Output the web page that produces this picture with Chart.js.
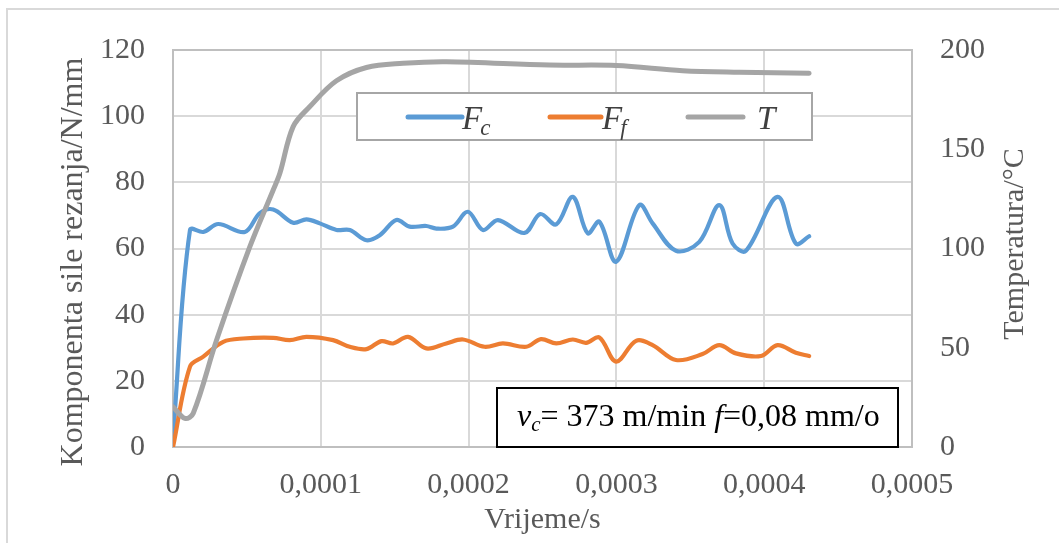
<!DOCTYPE html>
<html><head><meta charset="utf-8">
<script src="https://cdn.jsdelivr.net/npm/chart.js@4.4.0/dist/chart.umd.min.js"></script>
<style>html,body{margin:0;padding:0;background:#fff;}#wrap{width:1059px;height:543px;}</style>
</head><body><div id="wrap"><canvas id="c" width="1059" height="543"></canvas></div>
<script>
// ---- data ----
const timeFc = [0, 1.15e-5, 2.05e-5, 3.06e-5, 4.86e-5, 5.88e-5, 6.78e-5, 8.13e-5, 9.03e-5, 9.93e-5, 1.106e-4, 1.196e-4, 1.309e-4, 1.399e-4, 1.511e-4, 1.601e-4, 1.714e-4, 1.782e-4, 1.894e-4, 1.995e-4, 2.097e-4, 2.198e-4, 2.378e-4, 2.485e-4, 2.593e-4, 2.705e-4, 2.806e-4, 2.885e-4, 2.998e-4, 3.155e-4, 3.245e-4, 3.403e-4, 3.561e-4, 3.696e-4, 3.786e-4, 3.876e-4, 4.09e-4, 4.214e-4, 4.304e-4];
const forceFc = [3, 65.6, 65, 67.4, 65, 70.7, 71.8, 67.8, 68.8, 67.6, 65.6, 65.6, 62.5, 64, 68.6, 66.6, 66.8, 66, 66.6, 71.1, 65.6, 68.6, 64.7, 70.4, 67.3, 75.6, 64.6, 68.1, 56, 73.1, 67.6, 59.3, 62, 73.1, 61.5, 59.3, 75.6, 61.5, 63.7];
const timeFf = [0, 1.15e-5, 2.05e-5, 3.4e-5, 4.75e-5, 6.78e-5, 7.9e-5, 9.03e-5, 1.083e-4, 1.196e-4, 1.309e-4, 1.41e-4, 1.489e-4, 1.59e-4, 1.714e-4, 1.849e-4, 1.962e-4, 2.108e-4, 2.232e-4, 2.39e-4, 2.49e-4, 2.593e-4, 2.705e-4, 2.795e-4, 2.885e-4, 2.998e-4, 3.133e-4, 3.245e-4, 3.403e-4, 3.583e-4, 3.696e-4, 3.809e-4, 3.978e-4, 4.09e-4, 4.214e-4, 4.304e-4];
const forceFf = [0, 24.3, 27.3, 31.8, 32.8, 33, 32.3, 33.3, 32.3, 30.3, 29.6, 32, 31.3, 33.3, 29.8, 31.3, 32.5, 30.3, 31.3, 30.3, 32.6, 31.3, 32.5, 31.5, 33.1, 25.8, 32.1, 30.8, 26.3, 28.1, 30.8, 28.3, 27.5, 30.8, 28.5, 27.5];
const timeT = [0, 8.1e-6, 1.37e-5, 2.95e-5, 5.2e-5, 6.78e-5, 7.23e-5, 8.13e-5, 9.26e-5, 1.106e-4, 1.309e-4, 1.556e-4, 1.849e-4, 2.547e-4, 2.998e-4, 3.448e-4, 3.831e-4, 4.304e-4];
const tempT = [20.3, 14.4, 17, 53.9, 100.9, 129.5, 137.9, 161.4, 171.5, 184.5, 191.2, 193.3, 194.1, 192.4, 192.2, 189.6, 188.8, 188.3];
const xTicks = [0, 0.0001, 0.0002, 0.0003, 0.0004, 0.0005];
const xTickLabels = ['0', '0,0001', '0,0002', '0,0003', '0,0004', '0,0005'];
const leftTicks = [0, 20, 40, 60, 80, 100, 120];
const rightTicks = [0, 50, 100, 150, 200];
const seriesNames = ['F', 'F', 'T'];
const seriesSubs = ['c', 'f', ''];
const leftTitle = 'Komponenta sile rezanja/N/mm';
const rightTitle = 'Temperatura/°C';
const xTitle = 'Vrijeme/s';
const noteParts = [['v', 'i'], ['c', 'is'], ['= 373 m/min ', 'n'], ['f', 'i'], ['=0,08 mm/o', 'n']];

const FONT = 'Liberation Serif';
const TICKC = '#595959';
const colors = ['#5b9bd5', '#ed7d31', '#a5a5a5'];

const pts = (xs, ys) => xs.map((x, i) => ({x: x, y: ys[i]}));

const deco = {
  id: 'deco',
  beforeDraw(chart) {
    const ctx = chart.ctx;
    ctx.save();
    ctx.fillStyle = '#fff';
    ctx.fillRect(0, 0, chart.width, chart.height);
    ctx.strokeStyle = '#d9d9d9';
    ctx.lineWidth = 2;
    ctx.beginPath();
    ctx.moveTo(7, chart.height); ctx.lineTo(7, 9); ctx.lineTo(chart.width, 9);
    ctx.stroke();
    ctx.restore();
  },
  beforeDatasetsDraw(chart) {
    const ctx = chart.ctx, a = chart.chartArea;
    ctx.save();
    ctx.strokeStyle = '#bfbfbf';
    ctx.lineWidth = 2;
    ctx.strokeRect(a.left, a.top, a.right - a.left, a.bottom - a.top);
    ctx.restore();
  },
  afterDraw(chart) {
    const ctx = chart.ctx, a = chart.chartArea;
    ctx.save();
    // axis titles
    ctx.fillStyle = TICKC;
    ctx.textAlign = 'center';
    ctx.textBaseline = 'middle';
    ctx.font = '32px "' + FONT + '"';
    ctx.save(); ctx.translate(74, a.top + 212); ctx.rotate(-Math.PI / 2); ctx.fillText(leftTitle, 0, 0); ctx.restore();
    ctx.font = '30px "' + FONT + '"';
    ctx.save(); ctx.translate(1015, a.top + 194); ctx.rotate(-Math.PI / 2); ctx.fillText(rightTitle, 0, 0); ctx.restore();

    // legend
    const lx = a.left + 184, ly = a.top + 43, lw = 455, lh = 47;
    ctx.fillStyle = '#fff';
    ctx.fillRect(lx, ly, lw, lh);
    ctx.strokeStyle = '#a6a6a6'; ctx.lineWidth = 2;
    ctx.strokeRect(lx, ly, lw, lh);
    const lineStarts = [lx + 51, lx + 193, lx + 331];
    const lineLens = [54, 51, 55];
    const textStarts = [lx + 105, lx + 245, lx + 400];
    const cy = ly + 24;
    ctx.lineCap = 'round';
    ctx.textAlign = 'left';
    ctx.textBaseline = 'alphabetic';
    for (let i = 0; i < 3; i++) {
      ctx.strokeStyle = colors[i]; ctx.lineWidth = 5;
      ctx.beginPath(); ctx.moveTo(lineStarts[i], cy); ctx.lineTo(lineStarts[i] + lineLens[i], cy); ctx.stroke();
      ctx.fillStyle = '#404040';
      ctx.font = 'italic 33px "' + FONT + '"';
      ctx.fillText(seriesNames[i], textStarts[i], ly + 36);
      if (seriesSubs[i]) {
        const w = ctx.measureText(seriesNames[i]).width;
        ctx.font = 'italic 23px "' + FONT + '"';
        ctx.fillText(seriesSubs[i], textStarts[i] + w - 2, ly + 42);
      }
    }

    // note box
    const bx = a.left + 324, by = a.top + 338, bw = 401, bh = a.bottom - (a.top + 338);
    ctx.fillStyle = '#fff'; ctx.fillRect(bx, by, bw, bh);
    ctx.strokeStyle = '#000'; ctx.lineWidth = 2; ctx.strokeRect(bx, by, bw, bh);
    ctx.fillStyle = '#000';
    let tx = bx + 20;
    const base = by + 38;
    for (const [t, s] of noteParts) {
      if (s === 'is') { ctx.font = 'italic 21px "' + FONT + '"'; ctx.fillText(t, tx, base + 5); }
      else if (s === 'i') { ctx.font = 'italic 32px "' + FONT + '"'; ctx.fillText(t, tx, base); }
      else { ctx.font = '32px "' + FONT + '"'; ctx.fillText(t, tx, base); }
      tx += ctx.measureText(t).width;
    }
    ctx.restore();
  }
};

new Chart(document.getElementById('c'), {
  type: 'scatter',
  data: {
    datasets: [
      {label: 'Fc', data: pts(timeFc, forceFc), yAxisID: 'y', borderColor: colors[0], order: 2},
      {label: 'Ff', data: pts(timeFf, forceFf), yAxisID: 'y', borderColor: colors[1], order: 1},
      {label: 'T', data: pts(timeT, tempT), yAxisID: 'y1', borderColor: colors[2], order: 0, borderWidth: 5}
    ].map(d => Object.assign({showLine: true, pointRadius: 0, borderWidth: 4.2, tension: 0.35, borderCapStyle: 'round', borderJoinStyle: 'round', backgroundColor: d.borderColor}, d))
  },
  options: {
    responsive: false,
    animation: false,
    devicePixelRatio: 1,
    layout: {padding: {top: 50, left: 0, right: 0, bottom: 0}},
    plugins: {legend: {display: false}, tooltip: {enabled: false}},
    scales: {
      x: {
        type: 'linear', min: 0, max: 0.0005,
        afterFit(s) { s.height = 96; },
        afterBuildTicks(s) { s.ticks = xTicks.map(v => ({value: v})); },
        ticks: {color: TICKC, font: {family: FONT, size: 30}, padding: 20, maxRotation: 0,
          callback: (v) => { const i = xTicks.findIndex(t => Math.abs(t - v) < 1e-9); return i >= 0 ? xTickLabels[i] : ''; }},
        grid: {color: '#d9d9d9', lineWidth: 2, drawTicks: false},
        border: {display: false},
        title: {display: true, text: xTitle, color: TICKC, font: {family: FONT, size: 30}, padding: {top: 0, bottom: 5}}
      },
      y: {
        position: 'left', min: 0, max: 120,
        afterFit(s) { s.width = 173; },
        afterBuildTicks(s) { s.ticks = leftTicks.map(v => ({value: v})); },
        ticks: {color: TICKC, font: {family: FONT, size: 30}, padding: 28},
        grid: {color: '#d9d9d9', lineWidth: 2, drawTicks: false},
        border: {display: false}
      },
      y1: {
        position: 'right', min: 0, max: 200,
        afterFit(s) { s.width = 147; },
        afterBuildTicks(s) { s.ticks = rightTicks.map(v => ({value: v})); },
        ticks: {color: TICKC, font: {family: FONT, size: 30}, padding: 28},
        grid: {drawOnChartArea: false, drawTicks: false},
        border: {display: false}
      }
    }
  },
  plugins: [deco]
});
</script></body></html>
